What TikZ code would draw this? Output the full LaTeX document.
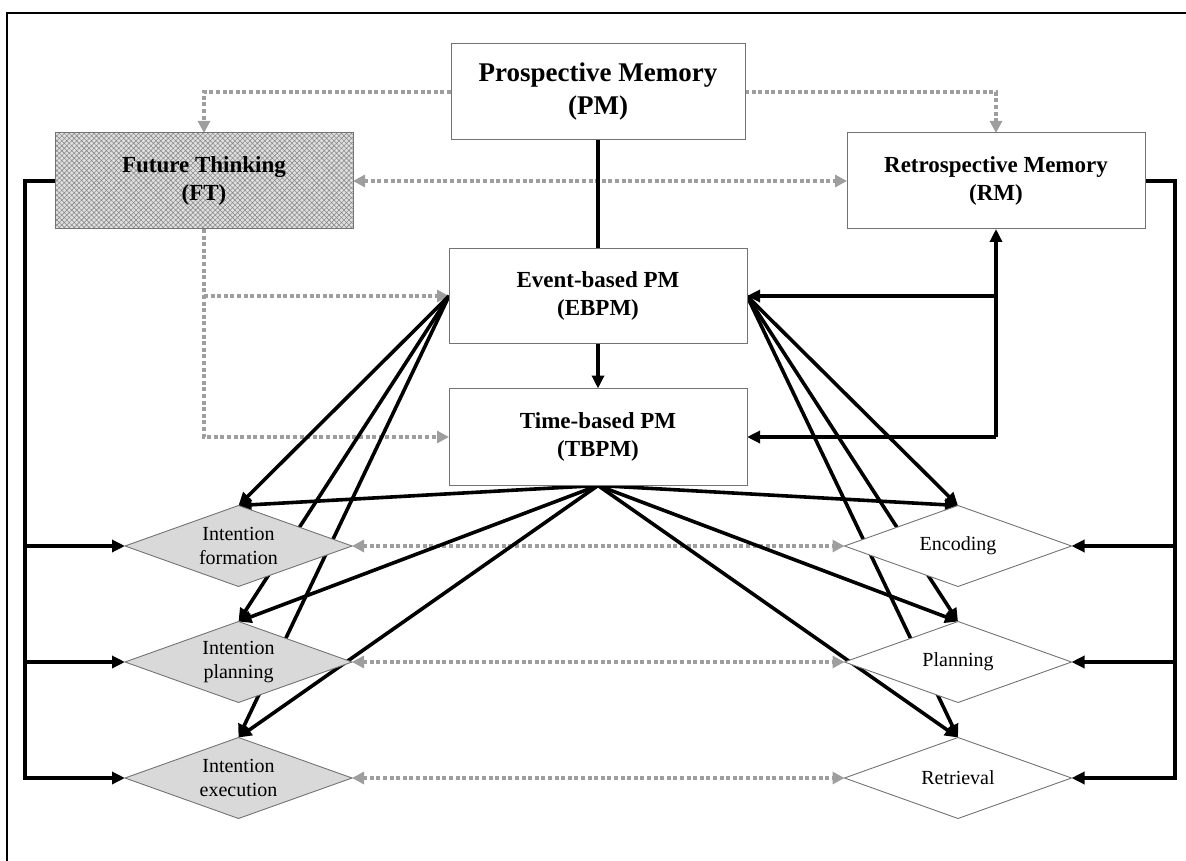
\documentclass[tikz,border=0pt]{standalone}
\usepackage{fontspec}
\setmainfont{Liberation Serif}
\usetikzlibrary{arrows.meta,patterns.meta,shapes.geometric}
\pgfdeclarelayer{bg}
\pgfsetlayers{bg,main}
\begin{document}
\begin{tikzpicture}[x=1pt,y=-1pt,
  box/.style={rectangle,draw=black!55,line width=1pt,fill=white,inner sep=0pt,outer sep=0pt,
    align=center,minimum width=298pt,minimum height=96pt,
    font=\bfseries\fontsize{23}{28}\selectfont},
  bigbox/.style={box,minimum width=294pt,font=\bfseries\fontsize{27}{33}\selectfont},
  dia/.style={diamond,draw=black!55,line width=0.9pt,fill=white,inner sep=0pt,outer sep=0pt,
    shape aspect=2.8,minimum width=227pt,minimum height=81pt,align=center,
    font=\fontsize{20}{24}\selectfont},
  gdia/.style={dia,fill=black!15},
  conn/.style={line width=3.6pt,draw=black,line join=miter},
  blk/.style={conn,-{Triangle[length=13pt,width=12pt]}},
  dot/.style={line width=4pt,draw=black!38,dash pattern=on 4pt off 2.6pt},
  dotarrow/.style={dot,-{Triangle[length=12pt,width=12pt,fill=black!38]}},
  dotboth/.style={dot,{Triangle[length=12pt,width=12pt,fill=black!38]}-{Triangle[length=12pt,width=12pt,fill=black!38]}}
]
\useasboundingbox (0,0) rectangle (1186,861);
\draw[line width=2.4pt] (7,861) -- (7,13) -- (1186,13);

% boxes
\node[bigbox] (PM) at (598,92) {Prospective Memory\\(PM)};
\node[box,preaction={fill=black!12},pattern={Hatch[angle=45,distance=3.5pt,line width=0.6pt]},pattern color=black!45] (FT) at (204,181) {Future Thinking\\(FT)};
\node[box] (RM) at (996,181) {Retrospective Memory\\(RM)};
\node[box,minimum height=95pt] (EB) at (598,296) {Event-based PM\\(EBPM)};
\node[box,minimum height=97pt] (TB) at (598,437) {Time-based PM\\(TBPM)};

% diamonds
\node[gdia] (IF) at (238.5,546) {Intention\\formation};
\node[gdia] (IP) at (238.5,662) {Intention\\planning};
\node[gdia] (IE) at (238.5,778) {Intention\\execution};
\node[dia] (EN) at (958,546) {Encoding};
\node[dia] (PL) at (958,662) {Planning};
\node[dia] (RE) at (958,778) {Retrieval};

\coordinate (lbus) at (25,0);
\coordinate (rbus) at (1175,0);

\begin{pgfonlayer}{bg}
% dotted links
\draw[dotarrow] (PM.west) -| (FT.north);
\draw[dotarrow] (PM.east) -| (RM.north);
\draw[dotboth] (FT.east) -- (RM.west);
\draw[dotarrow] (FT.south) |- (TB.west);
\draw[dotarrow] (FT.south |- EB.west) -- (EB.west);
\draw[dotboth] (IF.east) -- (EN.west);
\draw[dotboth] (IP.east) -- (PL.west);
\draw[dotboth] (IE.east) -- (RE.west);

% PM to EBPM to TBPM
\draw[conn] (PM.south) -- (EB.north);
\draw[blk] (EB.south) -- (TB.north);

% RM links
\coordinate (rj) at (RM.south |- TB.east);
\draw[blk] (rj) -- (RM.south);
\draw[blk] (rj) -- (TB.east);
\draw[blk] (RM.south |- EB.east) -- (EB.east);

% EBPM fans
\draw[blk] (EB.west) -- (IF.north);
\draw[blk] (EB.west) -- (IP.north);
\draw[blk] (EB.west) -- (IE.north);
\draw[blk] (EB.east) -- (EN.north);
\draw[blk] (EB.east) -- (PL.north);
\draw[blk] (EB.east) -- (RE.north);

% TBPM fans
\draw[blk] (TB.south) -- (IF.north);
\draw[blk] (TB.south) -- (IP.north);
\draw[blk] (TB.south) -- (IE.north);
\draw[blk] (TB.south) -- (EN.north);
\draw[blk] (TB.south) -- (PL.north);
\draw[blk] (TB.south) -- (RE.north);

% buses
\draw[blk] (FT.west) -| (lbus |- IE.west) -- (IE.west);
\draw[blk] (lbus |- IF.west) -- (IF.west);
\draw[blk] (lbus |- IP.west) -- (IP.west);
\draw[blk] (RM.east) -| (rbus |- RE.east) -- (RE.east);
\draw[blk] (rbus |- EN.east) -- (EN.east);
\draw[blk] (rbus |- PL.east) -- (PL.east);
\end{pgfonlayer}
\end{tikzpicture}
\end{document}
